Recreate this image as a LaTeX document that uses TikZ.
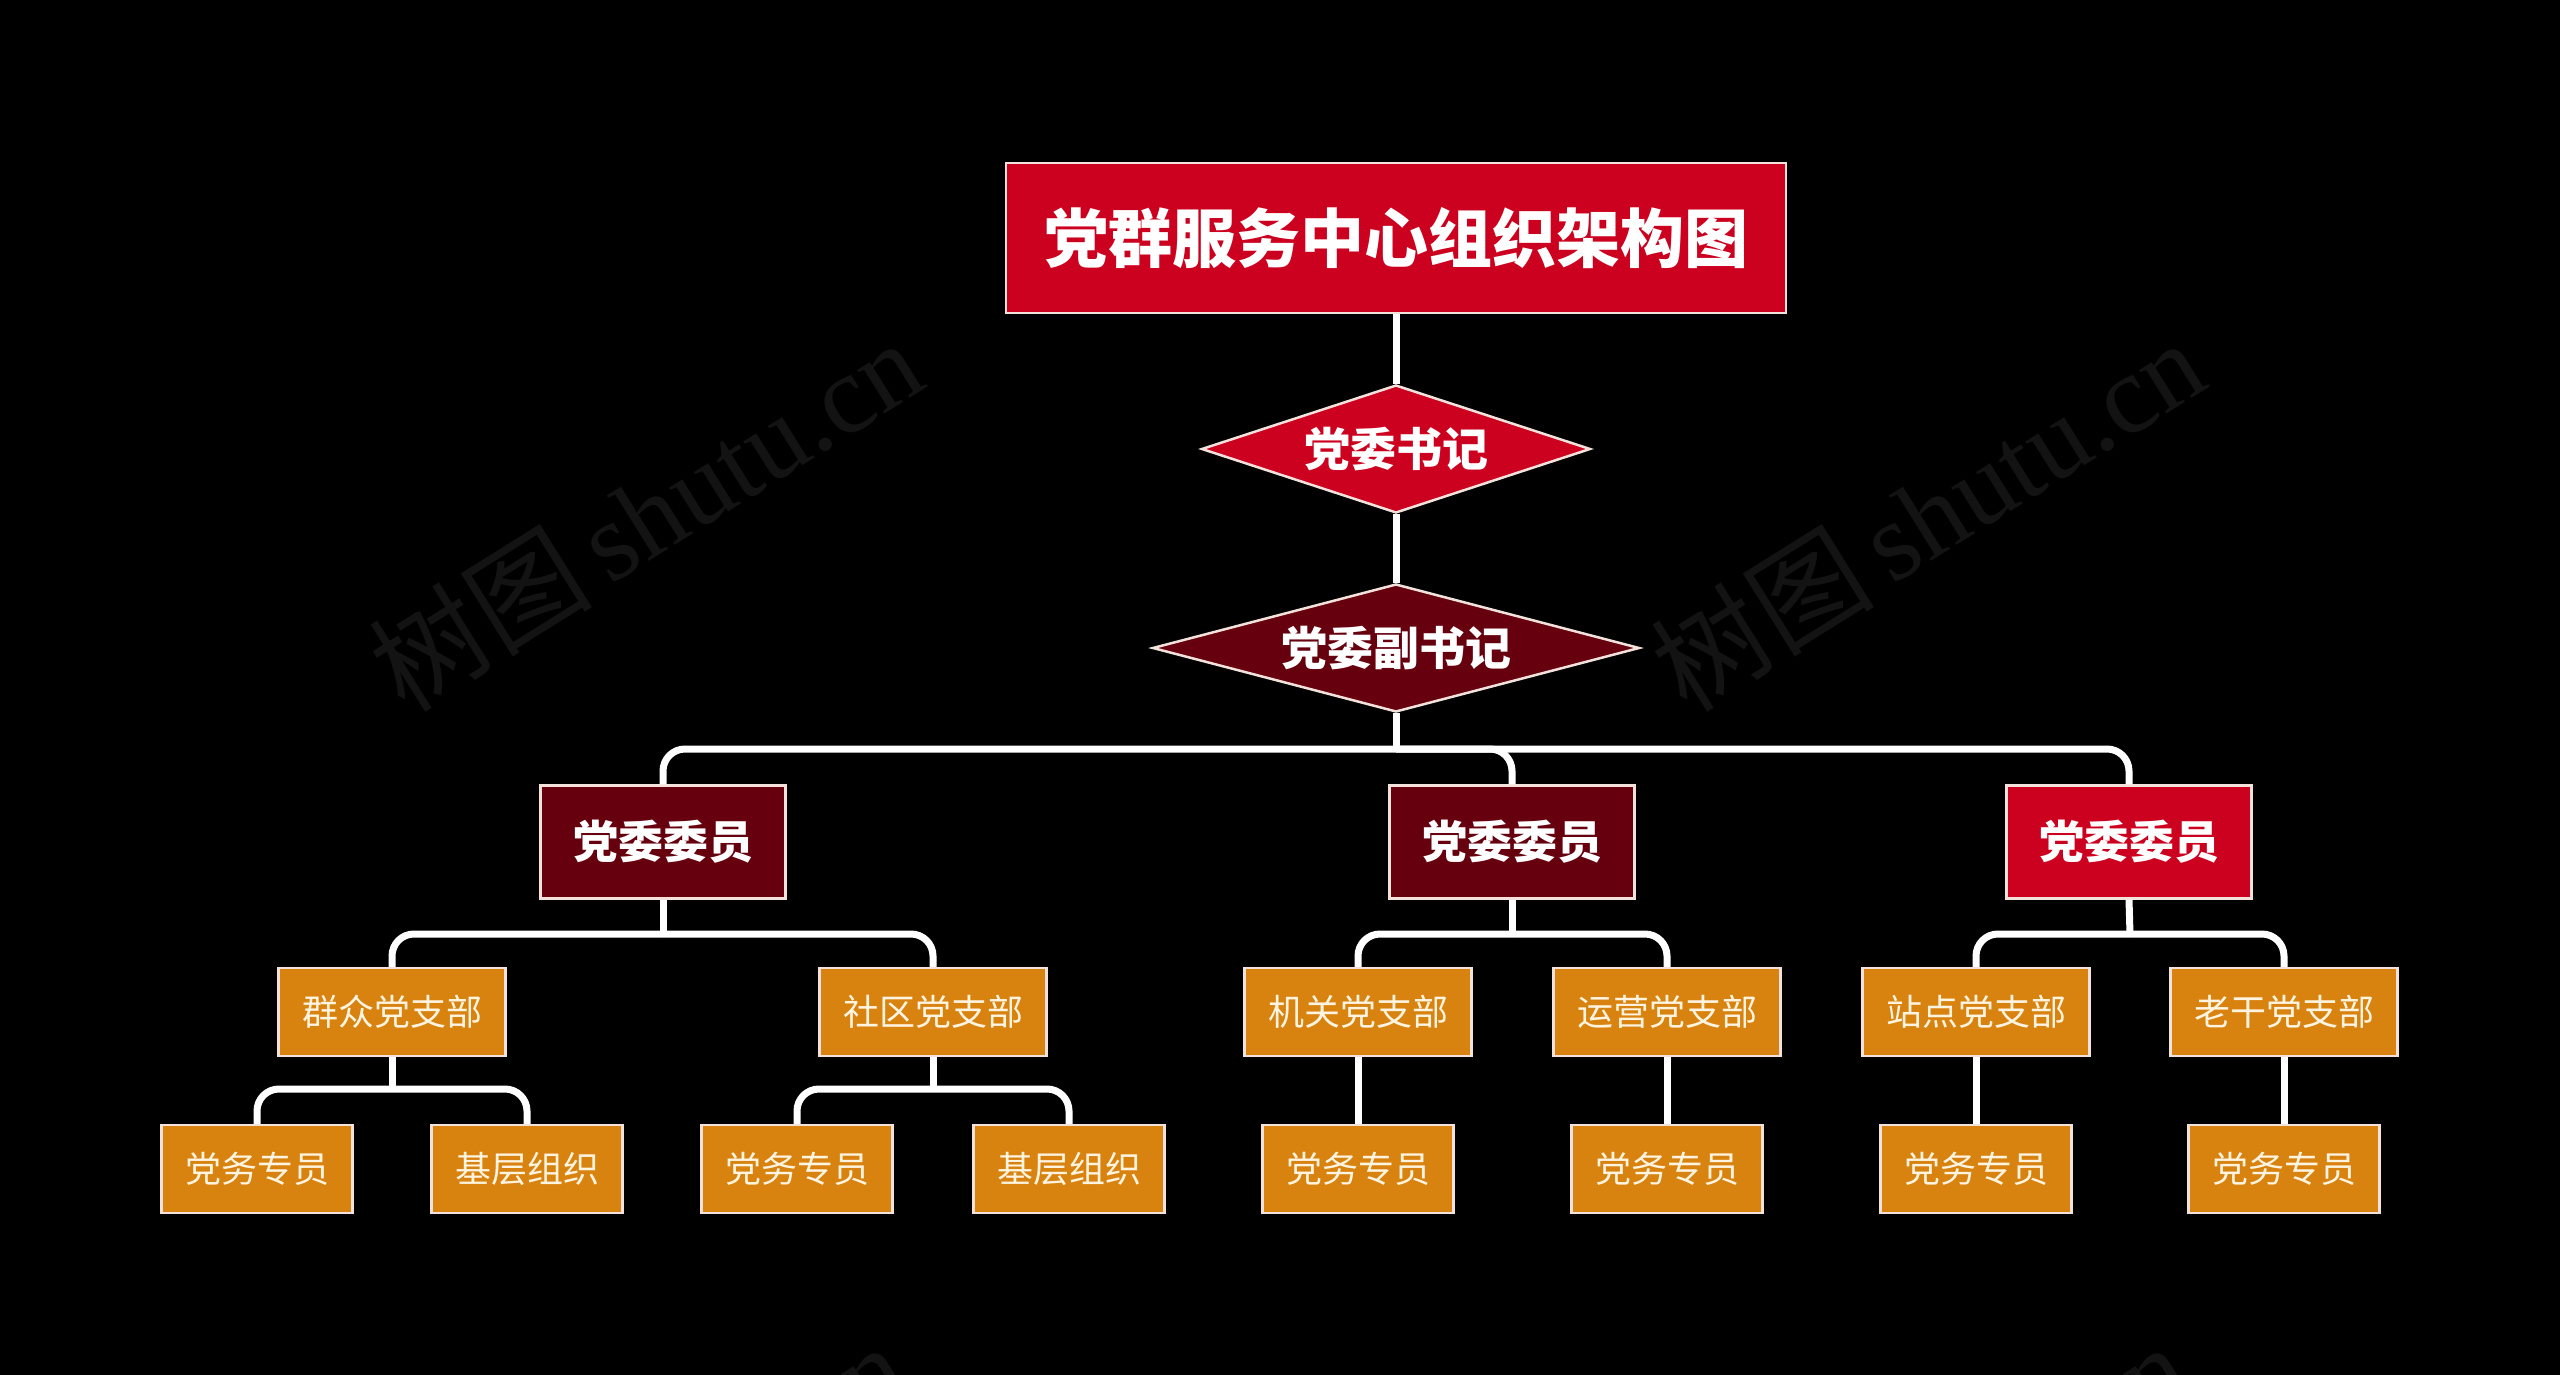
\documentclass[tikz,border=0pt]{standalone}
\usepackage{fontspec}
\newfontfamily\cjk{Noto Sans CJK SC}
\newfontfamily\wmserif{Liberation Serif}
\usetikzlibrary{shapes.geometric}
\definecolor{titlered}{HTML}{CC001F}
\definecolor{maroon}{HTML}{66000F}
\definecolor{orangebox}{HTML}{D8820F}
\definecolor{boxline}{HTML}{F3E2DC}
\definecolor{creamtext}{HTML}{FFF4E0}
\definecolor{wmgray}{HTML}{131313}
\tikzset{
  conn/.style={draw=white, line width=7pt, rounded corners=22pt},
  titlebox/.style={rectangle, fill=titlered, draw=boxline, line width=2.5pt,
    minimum width=780pt, minimum height=150pt, inner sep=0pt, text=white,
    font=\cjk\bfseries\fontsize{64}{70}\selectfont},
  diam/.style={diamond, draw=boxline, line width=2.5pt, aspect=3.5, inner sep=0pt,
    minimum height=128pt, text=white, font=\cjk\bfseries\fontsize{46}{50}\selectfont},
  member/.style={rectangle, draw=boxline, line width=2.5pt, minimum width=245pt,
    minimum height=113pt, inner sep=0pt, text=white,
    font=\cjk\bfseries\fontsize{45}{50}\selectfont},
  branch/.style={rectangle, fill=orangebox, draw=boxline, line width=2.5pt,
    minimum width=227pt, minimum height=88pt, inner sep=0pt, text=creamtext,
    font=\cjk\fontsize{36}{40}\selectfont},
  leaf/.style={branch, minimum width=191pt},
  wm/.style={text=wmgray, rotate=32, inner sep=0pt, font=\fontsize{112}{120}\selectfont}
}
\begin{document}
\begin{tikzpicture}[x=1pt,y=-1pt]
\useasboundingbox (0,0) rectangle (2560,1375);
\fill[black] (0,0) rectangle (2560,1375);
\begin{scope}
\clip (0,0) rectangle (2560,1375);
\node[wm] (w1) at (645,514) {{\cjk 树图}\,{\wmserif shutu.cn}};
\node[wm] (w2) at (1927,514) {{\cjk 树图}\,{\wmserif shutu.cn}};
\node[wm] (w3) at (629,1518) {{\cjk 树图}\,{\wmserif shutu.cn}};
\node[wm] (w4) at (1911,1518) {{\cjk 树图}\,{\wmserif shutu.cn}};
\end{scope}

\coordinate (t1) at (1396,749);
\coordinate (c1) at (663,934);
\coordinate (c2) at (1512,934);
\coordinate (c3) at (2130,934);
\coordinate (g1) at (392,1089);
\coordinate (g2) at (933,1089);

\node[titlebox] (title) at (1396,238) {党群服务中心组织架构图};
\node[diam, fill=titlered, minimum width=389pt] (d1) at (1396,449) {党委书记};
\node[diam, fill=maroon, minimum width=487pt] (d2) at (1396,648) {党委副书记};

\node[member, fill=maroon] (m1) at (663,842) {党委委员};
\node[member, fill=maroon] (m2) at (1512,842) {党委委员};
\node[member, fill=titlered] (m3) at (2129,842) {党委委员};

\node[branch] (b1) at (392,1012) {群众党支部};
\node[branch] (b2) at (933,1012) {社区党支部};
\node[branch] (b3) at (1358,1012) {机关党支部};
\node[branch] (b4) at (1667,1012) {运营党支部};
\node[branch] (b5) at (1976,1012) {站点党支部};
\node[branch] (b6) at (2284,1012) {老干党支部};

\node[leaf] (l1) at (257,1169) {党务专员};
\node[leaf] (l2) at (527,1169) {基层组织};
\node[leaf] (l3) at (797,1169) {党务专员};
\node[leaf] (l4) at (1069,1169) {基层组织};
\node[leaf] (l5) at (1358,1169) {党务专员};
\node[leaf] (l6) at (1667,1169) {党务专员};
\node[leaf] (l7) at (1976,1169) {党务专员};
\node[leaf] (l8) at (2284,1169) {党务专员};

\draw[conn] (title.south) -- (d1.north);
\draw[conn] (d1.south) -- (d2.north);
\draw[conn] (d2.south) -- (t1);
\draw[conn] (t1) -| (m1.north);
\draw[conn] (t1) -| (m2.north);
\draw[conn] (t1) -| (m3.north);

\draw[conn] (m1.south) -- (c1);
\draw[conn] (c1) -| (b1.north);
\draw[conn] (c1) -| (b2.north);
\draw[conn] (m2.south) -- (c2);
\draw[conn] (c2) -| (b3.north);
\draw[conn] (c2) -| (b4.north);
\draw[conn] (m3.south) -- (c3);
\draw[conn] (c3) -| (b5.north);
\draw[conn] (c3) -| (b6.north);

\draw[conn] (b1.south) -- (g1);
\draw[conn] (g1) -| (l1.north);
\draw[conn] (g1) -| (l2.north);
\draw[conn] (b2.south) -- (g2);
\draw[conn] (g2) -| (l3.north);
\draw[conn] (g2) -| (l4.north);
\draw[conn] (b3.south) -- (l5.north);
\draw[conn] (b4.south) -- (l6.north);
\draw[conn] (b5.south) -- (l7.north);
\draw[conn] (b6.south) -- (l8.north);
\end{tikzpicture}
\end{document}
